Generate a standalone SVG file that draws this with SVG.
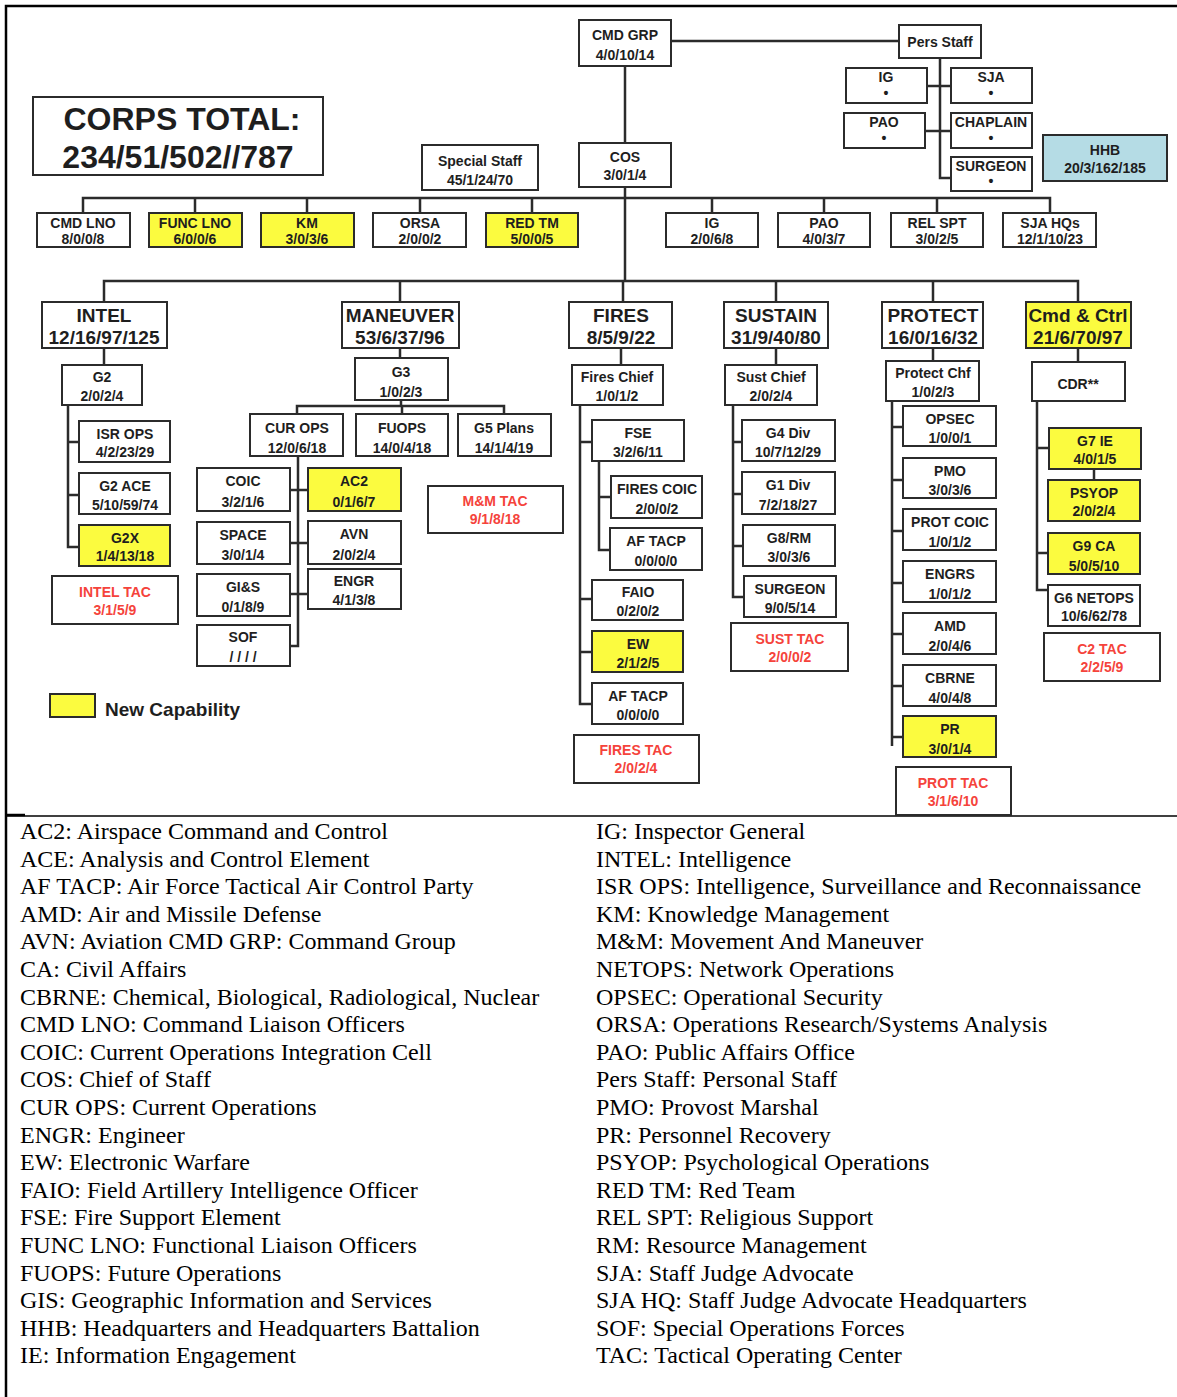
<svg xmlns="http://www.w3.org/2000/svg" width="1177" height="1397" viewBox="0 0 1177 1397">
  <style>
    .bx { fill: #ffffff; stroke: #2b2b2b; stroke-width: 2; }
    .nw { fill: #fbfb3f; stroke: #2b2b2b; stroke-width: 2; }
    .hq { fill: #b5dce5; stroke: #2b2b2b; stroke-width: 2; }
    .tac { fill: #ffffff; stroke: #2b2b2b; stroke-width: 2; }
    text { font-family: "Liberation Sans", Arial, sans-serif; font-weight: bold; fill: #1e1e1e; text-anchor: middle; }
    .s { font-size: 14px; }
    .sec { font-size: 19px; }
    .big { font-size: 32px; }
    .red { fill: #f5433b; }
    .cn { fill: none; stroke: #2b2b2b; stroke-width: 2.5; }
    .frame { fill: none; stroke: #000000; stroke-width: 2.5; }
    .gl { font-family: "Liberation Serif", "Times New Roman", serif; font-weight: normal; font-size: 24px; fill: #000; text-anchor: start; }
  </style>

  <!-- page frame -->
  <path class="frame" d="M6 1397 V6 H1177"/>
  <path d="M6 815 H25" stroke="#000" stroke-width="2.5"/>
  <path d="M6 816 H1177" stroke="#000" stroke-width="1.5"/>

  <!-- connectors -->
  <g id="connectors" class="cn">
    <path d="M671 41 H899"/>
    <path d="M625 66 V143"/>
    <path d="M940 58 V178 H951"/>
    <path d="M927 86 H951"/>
    <path d="M925 131 H951"/>
    <path d="M625 187 V281"/>
    <path d="M83 213 V198 H1050 V213"/>
    <path d="M195 198 V213 M307 198 V213 M420 198 V213 M532 198 V213 M712 198 V213 M824 198 V213 M937 198 V213"/>
    <path d="M104 302 V281 H1078 V302"/>
    <path d="M400 281 V302 M623 281 V302 M776 281 V302 M933 281 V302"/>
    <!-- intel -->
    <path d="M104 348 V365"/>
    <path d="M68 405 V547 H79 M68 442 H79 M68 495 H79"/>
    <!-- maneuver -->
    <path d="M400 348 V358"/>
    <path d="M401 400 V406"/>
    <path d="M297 414 V406 H504 V414 M402 406 V414"/>
    <path d="M298 456 V646 H290 M290 490 H308 M290 543 H308 M290 594 H308"/>
    <!-- fires -->
    <path d="M621 348 V365"/>
    <path d="M580 405 V704 H592 M580 442 H592 M580 599 H592 M580 652 H592"/>
    <path d="M599 461 V550 H610 M599 497 H611"/>
    <!-- sustain -->
    <path d="M776 348 V365"/>
    <path d="M733 405 V597 H744 M733 442 H742 M733 494 H742 M733 546 H743"/>
    <!-- protect -->
    <path d="M933 348 V361"/>
    <path d="M892 401 V746 M892 427 H903 M892 480 H903 M892 531 H903 M892 583 H903 M892 634 H903 M892 686 H903 M892 737 H903"/>
    <!-- command and control -->
    <path d="M1078 348 V362"/>
    <path d="M1037 401 V590 H1048 M1037 448 H1049 M1037 553 H1048"/>
    <path d="M1094 469 V480"/>
  </g>

  <!-- totals -->
  <g id="corps-total">
    <rect class="bx" x="33" y="97" width="290" height="78"/>
    <text class="big" x="182" y="130">CORPS TOTAL:</text>
    <text class="big" x="178" y="168">234/51/502//787</text>
  </g>

  <!-- command group and personal staff -->
  <g id="cmd-grp"><rect class="bx" x="579" y="20" width="92" height="46"/><text class="s" x="625" y="40">CMD GRP</text><text class="s" x="625" y="60">4/0/10/14</text></g>
  <g id="pers-staff"><rect class="bx" x="899" y="25" width="82" height="33"/><text class="s" x="940" y="47">Pers Staff</text></g>
  <g id="pers-ig"><rect class="bx" x="846" y="68" width="81" height="35"/><text class="s" x="886" y="82">IG</text><text class="s" x="886" y="98">•</text></g>
  <g id="pers-sja"><rect class="bx" x="951" y="68" width="81" height="35"/><text class="s" x="991" y="82">SJA</text><text class="s" x="991" y="98">•</text></g>
  <g id="pers-pao"><rect class="bx" x="844" y="113" width="81" height="35"/><text class="s" x="884" y="127">PAO</text><text class="s" x="884" y="143">•</text></g>
  <g id="pers-chaplain"><rect class="bx" x="951" y="113" width="81" height="35"/><text class="s" x="991" y="127">CHAPLAIN</text><text class="s" x="991" y="143">•</text></g>
  <g id="pers-surgeon"><rect class="bx" x="951" y="157" width="81" height="34"/><text class="s" x="991" y="171">SURGEON</text><text class="s" x="991" y="186">•</text></g>
  <g id="hhb"><rect class="hq" x="1043" y="135" width="124" height="46"/><text class="s" x="1105" y="155">HHB</text><text class="s" x="1105" y="173">20/3/162/185</text></g>
  <g id="cos"><rect class="bx" x="579" y="143" width="92" height="44"/><text class="s" x="625" y="162">COS</text><text class="s" x="625" y="180">3/0/1/4</text></g>
  <g id="special-staff"><rect class="bx" x="422" y="145" width="116" height="45"/><text class="s" x="480" y="166">Special Staff</text><text class="s" x="480" y="185">45/1/24/70</text></g>

  <!-- staff row -->
  <g id="cmd-lno"><rect class="bx" x="37" y="213" width="93" height="34"/><text class="s" x="83" y="228">CMD LNO</text><text class="s" x="83" y="244">8/0/0/8</text></g>
  <g id="func-lno"><rect class="nw" x="149" y="213" width="93" height="34"/><text class="s" x="195" y="228">FUNC LNO</text><text class="s" x="195" y="244">6/0/0/6</text></g>
  <g id="km"><rect class="nw" x="261" y="213" width="93" height="34"/><text class="s" x="307" y="228">KM</text><text class="s" x="307" y="244">3/0/3/6</text></g>
  <g id="orsa"><rect class="bx" x="373" y="213" width="93" height="34"/><text class="s" x="420" y="228">ORSA</text><text class="s" x="420" y="244">2/0/0/2</text></g>
  <g id="red-tm"><rect class="nw" x="486" y="213" width="92" height="34"/><text class="s" x="532" y="228">RED TM</text><text class="s" x="532" y="244">5/0/0/5</text></g>
  <g id="ig"><rect class="bx" x="666" y="213" width="92" height="34"/><text class="s" x="712" y="228">IG</text><text class="s" x="712" y="244">2/0/6/8</text></g>
  <g id="pao"><rect class="bx" x="778" y="213" width="92" height="34"/><text class="s" x="824" y="228">PAO</text><text class="s" x="824" y="244">4/0/3/7</text></g>
  <g id="rel-spt"><rect class="bx" x="891" y="213" width="92" height="34"/><text class="s" x="937" y="228">REL SPT</text><text class="s" x="937" y="244">3/0/2/5</text></g>
  <g id="sja-hqs"><rect class="bx" x="1003" y="213" width="93" height="34"/><text class="s" x="1050" y="228">SJA HQs</text><text class="s" x="1050" y="244">12/1/10/23</text></g>

  <!-- functional sections -->
  <g id="intel"><rect class="bx" x="42" y="302" width="125" height="46"/><text class="sec" x="104" y="322">INTEL</text><text class="sec" x="104" y="344">12/16/97/125</text></g>
  <g id="maneuver"><rect class="bx" x="342" y="302" width="117" height="46"/><text class="sec" x="400" y="322">MANEUVER</text><text class="sec" x="400" y="344">53/6/37/96</text></g>
  <g id="fires"><rect class="bx" x="569" y="302" width="103" height="46"/><text class="sec" x="621" y="322">FIRES</text><text class="sec" x="621" y="344">8/5/9/22</text></g>
  <g id="sustain"><rect class="bx" x="724" y="302" width="104" height="46"/><text class="sec" x="776" y="322">SUSTAIN</text><text class="sec" x="776" y="344">31/9/40/80</text></g>
  <g id="protect"><rect class="bx" x="882" y="302" width="101" height="46"/><text class="sec" x="933" y="322">PROTECT</text><text class="sec" x="933" y="344">16/0/16/32</text></g>
  <g id="cmd-ctrl"><rect class="nw" x="1026" y="302" width="105" height="46"/><text class="sec" x="1078" y="322">Cmd &amp; Ctrl</text><text class="sec" x="1078" y="344">21/6/70/97</text></g>

  <!-- intel branch -->
  <g id="g2"><rect class="bx" x="62" y="365" width="80" height="40"/><text class="s" x="102" y="382">G2</text><text class="s" x="102" y="401">2/0/2/4</text></g>
  <g id="isr-ops"><rect class="bx" x="79" y="421" width="91" height="41"/><text class="s" x="125" y="439">ISR OPS</text><text class="s" x="125" y="457">4/2/23/29</text></g>
  <g id="g2-ace"><rect class="bx" x="79" y="473" width="91" height="41"/><text class="s" x="125" y="491">G2 ACE</text><text class="s" x="125" y="510">5/10/59/74</text></g>
  <g id="g2x"><rect class="nw" x="79" y="525" width="91" height="41"/><text class="s" x="125" y="543">G2X</text><text class="s" x="125" y="561">1/4/13/18</text></g>
  <g id="intel-tac"><rect class="tac" x="52" y="576" width="126" height="48"/><text class="s red" x="115" y="597">INTEL TAC</text><text class="s red" x="115" y="615">3/1/5/9</text></g>

  <!-- maneuver branch -->
  <g id="g3"><rect class="bx" x="355" y="358" width="93" height="42"/><text class="s" x="401" y="377">G3</text><text class="s" x="401" y="397">1/0/2/3</text></g>
  <g id="cur-ops"><rect class="bx" x="250" y="414" width="93" height="42"/><text class="s" x="297" y="433">CUR OPS</text><text class="s" x="297" y="453">12/0/6/18</text></g>
  <g id="fuops"><rect class="bx" x="356" y="414" width="92" height="42"/><text class="s" x="402" y="433">FUOPS</text><text class="s" x="402" y="453">14/0/4/18</text></g>
  <g id="g5-plans"><rect class="bx" x="458" y="414" width="93" height="42"/><text class="s" x="504" y="433">G5 Plans</text><text class="s" x="504" y="453">14/1/4/19</text></g>
  <g id="coic"><rect class="bx" x="197" y="468" width="93" height="43"/><text class="s" x="243" y="486">COIC</text><text class="s" x="243" y="507">3/2/1/6</text></g>
  <g id="ac2"><rect class="nw" x="308" y="468" width="93" height="43"/><text class="s" x="354" y="486">AC2</text><text class="s" x="354" y="507">0/1/6/7</text></g>
  <g id="space"><rect class="bx" x="197" y="522" width="93" height="42"/><text class="s" x="243" y="540">SPACE</text><text class="s" x="243" y="560">3/0/1/4</text></g>
  <g id="avn"><rect class="bx" x="308" y="521" width="93" height="43"/><text class="s" x="354" y="539">AVN</text><text class="s" x="354" y="560">2/0/2/4</text></g>
  <g id="gis"><rect class="bx" x="197" y="574" width="93" height="42"/><text class="s" x="243" y="592">GI&amp;S</text><text class="s" x="243" y="612">0/1/8/9</text></g>
  <g id="engr"><rect class="bx" x="308" y="569" width="93" height="40"/><text class="s" x="354" y="586">ENGR</text><text class="s" x="354" y="605">4/1/3/8</text></g>
  <g id="sof"><rect class="bx" x="197" y="625" width="93" height="41"/><text class="s" x="243" y="642">SOF</text><text class="s" x="243" y="662">/ / / /</text></g>
  <g id="mm-tac"><rect class="tac" x="428" y="486" width="135" height="47"/><text class="s red" x="495" y="506">M&amp;M TAC</text><text class="s red" x="495" y="524">9/1/8/18</text></g>

  <!-- fires branch -->
  <g id="fires-chief"><rect class="bx" x="572" y="365" width="91" height="40"/><text class="s" x="617" y="382">Fires Chief</text><text class="s" x="617" y="401">1/0/1/2</text></g>
  <g id="fse"><rect class="bx" x="592" y="420" width="92" height="41"/><text class="s" x="638" y="438">FSE</text><text class="s" x="638" y="457">3/2/6/11</text></g>
  <g id="fires-coic"><rect class="bx" x="611" y="476" width="91" height="42"/><text class="s" x="657" y="494">FIRES COIC</text><text class="s" x="657" y="514">2/0/0/2</text></g>
  <g id="af-tacp-1"><rect class="bx" x="610" y="528" width="92" height="42"/><text class="s" x="656" y="546">AF TACP</text><text class="s" x="656" y="566">0/0/0/0</text></g>
  <g id="faio"><rect class="bx" x="592" y="580" width="91" height="40"/><text class="s" x="638" y="597">FAIO</text><text class="s" x="638" y="616">0/2/0/2</text></g>
  <g id="ew"><rect class="nw" x="592" y="631" width="91" height="41"/><text class="s" x="638" y="649">EW</text><text class="s" x="638" y="668">2/1/2/5</text></g>
  <g id="af-tacp-2"><rect class="bx" x="592" y="683" width="91" height="41"/><text class="s" x="638" y="701">AF TACP</text><text class="s" x="638" y="720">0/0/0/0</text></g>
  <g id="fires-tac"><rect class="tac" x="574" y="735" width="125" height="48"/><text class="s red" x="636" y="755">FIRES TAC</text><text class="s red" x="636" y="773">2/0/2/4</text></g>

  <!-- sustain branch -->
  <g id="sust-chief"><rect class="bx" x="725" y="365" width="92" height="40"/><text class="s" x="771" y="382">Sust Chief</text><text class="s" x="771" y="401">2/0/2/4</text></g>
  <g id="g4-div"><rect class="bx" x="742" y="420" width="93" height="41"/><text class="s" x="788" y="438">G4 Div</text><text class="s" x="788" y="457">10/7/12/29</text></g>
  <g id="g1-div"><rect class="bx" x="742" y="472" width="93" height="42"/><text class="s" x="788" y="490">G1 Div</text><text class="s" x="788" y="510">7/2/18/27</text></g>
  <g id="g8-rm"><rect class="bx" x="743" y="525" width="92" height="41"/><text class="s" x="789" y="543">G8/RM</text><text class="s" x="789" y="562">3/0/3/6</text></g>
  <g id="sust-surgeon"><rect class="bx" x="744" y="576" width="92" height="41"/><text class="s" x="790" y="594">SURGEON</text><text class="s" x="790" y="613">9/0/5/14</text></g>
  <g id="sust-tac"><rect class="tac" x="731" y="623" width="117" height="48"/><text class="s red" x="790" y="644">SUST TAC</text><text class="s red" x="790" y="662">2/0/0/2</text></g>

  <!-- protect branch -->
  <g id="protect-chf"><rect class="bx" x="886" y="361" width="93" height="40"/><text class="s" x="933" y="378">Protect Chf</text><text class="s" x="933" y="397">1/0/2/3</text></g>
  <g id="opsec"><rect class="bx" x="903" y="406" width="93" height="40"/><text class="s" x="950" y="424">OPSEC</text><text class="s" x="950" y="443">1/0/0/1</text></g>
  <g id="pmo"><rect class="bx" x="903" y="458" width="93" height="40"/><text class="s" x="950" y="476">PMO</text><text class="s" x="950" y="495">3/0/3/6</text></g>
  <g id="prot-coic"><rect class="bx" x="903" y="509" width="93" height="41"/><text class="s" x="950" y="527">PROT COIC</text><text class="s" x="950" y="547">1/0/1/2</text></g>
  <g id="engrs"><rect class="bx" x="903" y="561" width="93" height="41"/><text class="s" x="950" y="579">ENGRS</text><text class="s" x="950" y="599">1/0/1/2</text></g>
  <g id="amd"><rect class="bx" x="903" y="613" width="93" height="41"/><text class="s" x="950" y="631">AMD</text><text class="s" x="950" y="651">2/0/4/6</text></g>
  <g id="cbrne"><rect class="bx" x="903" y="665" width="93" height="41"/><text class="s" x="950" y="683">CBRNE</text><text class="s" x="950" y="703">4/0/4/8</text></g>
  <g id="pr"><rect class="nw" x="903" y="716" width="93" height="41"/><text class="s" x="950" y="734">PR</text><text class="s" x="950" y="754">3/0/1/4</text></g>
  <g id="prot-tac"><rect class="tac" x="896" y="767" width="115" height="48"/><text class="s red" x="953" y="788">PROT TAC</text><text class="s red" x="953" y="806">3/1/6/10</text></g>

  <!-- command and control branch -->
  <g id="cdr"><rect class="bx" x="1032" y="362" width="93" height="39"/><text class="s" x="1078" y="389">CDR**</text></g>
  <g id="g7-ie"><rect class="nw" x="1049" y="428" width="92" height="41"/><text class="s" x="1095" y="446">G7 IE</text><text class="s" x="1095" y="464">4/0/1/5</text></g>
  <g id="psyop"><rect class="nw" x="1048" y="480" width="92" height="41"/><text class="s" x="1094" y="498">PSYOP</text><text class="s" x="1094" y="516">2/0/2/4</text></g>
  <g id="g9-ca"><rect class="nw" x="1048" y="533" width="92" height="41"/><text class="s" x="1094" y="551">G9 CA</text><text class="s" x="1094" y="571">5/0/5/10</text></g>
  <g id="g6-netops"><rect class="bx" x="1048" y="585" width="92" height="41"/><text class="s" x="1094" y="603">G6 NETOPS</text><text class="s" x="1094" y="621">10/6/62/78</text></g>
  <g id="c2-tac"><rect class="tac" x="1044" y="633" width="116" height="48"/><text class="s red" x="1102" y="654">C2 TAC</text><text class="s red" x="1102" y="672">2/2/5/9</text></g>

  <!-- legend key -->
  <g id="legend">
    <rect class="nw" x="50" y="694" width="45" height="23"/>
    <text x="105" y="716" style="font-size:19px;text-anchor:start">New Capability</text>
  </g>

  <!-- glossary -->
  <g id="glossary-left" class="gl">
    <text class="gl" x="20" y="839">AC2: Airspace Command and Control</text>
    <text class="gl" x="20" y="866.6">ACE: Analysis and Control Element</text>
    <text class="gl" x="20" y="894.2">AF TACP: Air Force Tactical Air Control Party</text>
    <text class="gl" x="20" y="921.8">AMD: Air and Missile Defense</text>
    <text class="gl" x="20" y="949.4">AVN: Aviation CMD GRP: Command Group</text>
    <text class="gl" x="20" y="977">CA: Civil Affairs</text>
    <text class="gl" x="20" y="1004.6">CBRNE: Chemical, Biological, Radiological, Nuclear</text>
    <text class="gl" x="20" y="1032.2">CMD LNO: Command Liaison Officers</text>
    <text class="gl" x="20" y="1059.8">COIC: Current Operations Integration Cell</text>
    <text class="gl" x="20" y="1087.4">COS: Chief of Staff</text>
    <text class="gl" x="20" y="1115">CUR OPS: Current Operations</text>
    <text class="gl" x="20" y="1142.6">ENGR: Engineer</text>
    <text class="gl" x="20" y="1170.2">EW: Electronic Warfare</text>
    <text class="gl" x="20" y="1197.8">FAIO: Field Artillery Intelligence Officer</text>
    <text class="gl" x="20" y="1225.4">FSE: Fire Support Element</text>
    <text class="gl" x="20" y="1253">FUNC LNO: Functional Liaison Officers</text>
    <text class="gl" x="20" y="1280.6">FUOPS: Future Operations</text>
    <text class="gl" x="20" y="1308.2">GIS: Geographic Information and Services</text>
    <text class="gl" x="20" y="1335.8">HHB: Headquarters and Headquarters Battalion</text>
    <text class="gl" x="20" y="1363.4">IE: Information Engagement</text>
  </g>
  <g id="glossary-right" class="gl">
    <text class="gl" x="596" y="839">IG: Inspector General</text>
    <text class="gl" x="596" y="866.6">INTEL: Intelligence</text>
    <text class="gl" x="596" y="894.2">ISR OPS: Intelligence, Surveillance and Reconnaissance</text>
    <text class="gl" x="596" y="921.8">KM: Knowledge Management</text>
    <text class="gl" x="596" y="949.4">M&amp;M: Movement And Maneuver</text>
    <text class="gl" x="596" y="977">NETOPS: Network Operations</text>
    <text class="gl" x="596" y="1004.6">OPSEC: Operational Security</text>
    <text class="gl" x="596" y="1032.2">ORSA: Operations Research/Systems Analysis</text>
    <text class="gl" x="596" y="1059.8">PAO: Public Affairs Office</text>
    <text class="gl" x="596" y="1087.4">Pers Staff: Personal Staff</text>
    <text class="gl" x="596" y="1115">PMO: Provost Marshal</text>
    <text class="gl" x="596" y="1142.6">PR: Personnel Recovery</text>
    <text class="gl" x="596" y="1170.2">PSYOP: Psychological Operations</text>
    <text class="gl" x="596" y="1197.8">RED TM: Red Team</text>
    <text class="gl" x="596" y="1225.4">REL SPT: Religious Support</text>
    <text class="gl" x="596" y="1253">RM: Resource Management</text>
    <text class="gl" x="596" y="1280.6">SJA: Staff Judge Advocate</text>
    <text class="gl" x="596" y="1308.2">SJA HQ: Staff Judge Advocate Headquarters</text>
    <text class="gl" x="596" y="1335.8">SOF: Special Operations Forces</text>
    <text class="gl" x="596" y="1363.4">TAC: Tactical Operating Center</text>
  </g>
</svg>
